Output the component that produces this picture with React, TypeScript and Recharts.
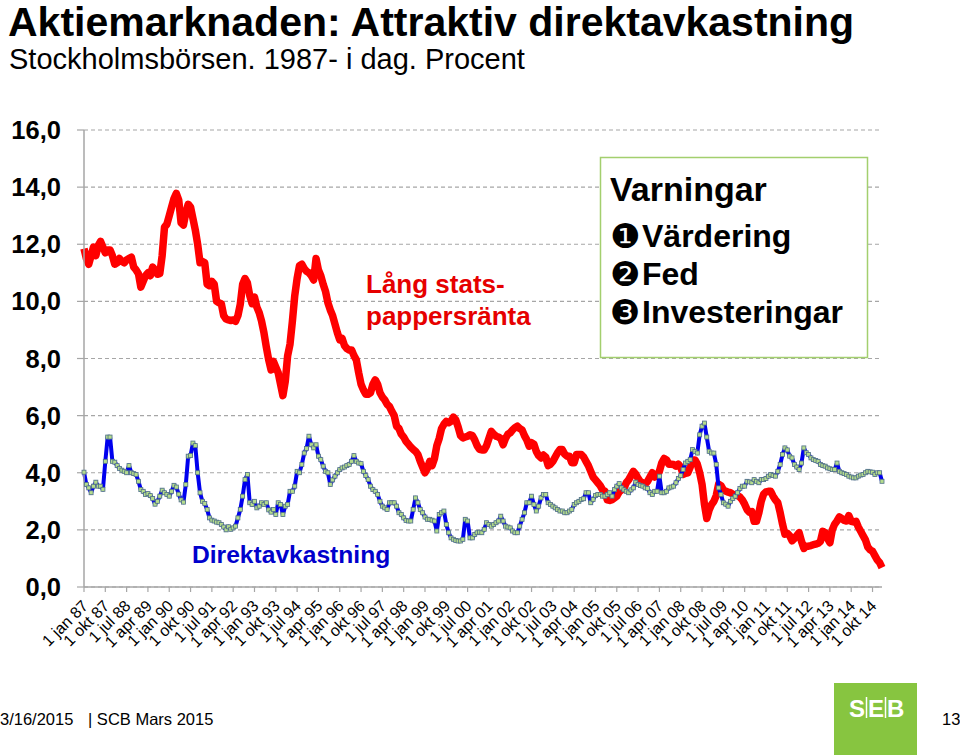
import React from "react";
import { LineChart, Line, XAxis, YAxis, CartesianGrid } from "recharts";

// Lång statspappersränta, månadsvärden jan 1987 - feb 2015 (procent)
const langRanta: number[] = [
  11.85, 11.5, 11.3, 11.6, 11.9, 11.6, 11.95, 12.1, 11.9, 11.7, 11.8, 11.8,
  11.6, 11.3, 11.35, 11.5, 11.4, 11.35, 11.45, 11.5, 11.55, 11.2, 11.1, 10.97,
  10.5, 10.7, 10.9, 11.0, 10.9, 11.2, 11.1, 10.95, 10.97, 11.6, 12.6, 12.7,
  13.0, 13.3, 13.6, 13.78, 13.55, 12.75, 12.67, 13.1, 13.4, 13.3, 12.9, 12.5,
  12.0, 11.35, 11.4, 11.35, 10.6, 10.55, 10.7, 10.6, 10.0, 9.95, 9.92, 9.5,
  9.38, 9.35, 9.33, 9.35, 9.3, 9.5, 9.9, 10.6, 10.8, 10.65, 10.2, 9.92,
  10.15, 9.8, 9.6, 9.3, 8.9, 8.4, 7.95, 7.6, 7.9, 7.7, 7.5, 7.1,
  6.7, 7.2, 8.1, 8.5, 9.3, 10.2, 10.8, 11.25, 11.3, 11.15, 11.05, 11.0,
  10.9, 10.75, 11.5, 11.1, 10.9, 10.6, 10.35, 9.95, 9.7, 9.5, 9.2, 8.9,
  8.65, 8.7, 8.45, 8.35, 8.3, 8.3, 8.1, 7.95, 7.5, 7.1, 6.9, 6.75,
  6.75, 6.8, 7.1, 7.25, 7.1, 6.8, 6.65, 6.55, 6.4, 6.32, 6.15, 6.0,
  5.63, 5.55, 5.35, 5.25, 5.1, 5.0, 4.9, 4.82, 4.75, 4.64, 4.4, 4.2,
  4.0, 4.15, 4.4, 4.25, 4.5, 4.95, 5.2, 5.55, 5.7, 5.8, 5.75, 5.8,
  5.95, 5.85, 5.6, 5.3, 5.22, 5.25, 5.28, 5.33, 5.3, 5.15, 4.95, 4.82,
  4.8, 4.8, 4.95, 5.2, 5.45, 5.35, 5.28, 5.25, 5.2, 4.98, 5.2, 5.35,
  5.4, 5.5, 5.58, 5.63, 5.55, 5.5, 5.3, 5.15, 4.93, 5.05, 5.0, 4.75,
  4.6, 4.52, 4.62, 4.55, 4.25, 4.3, 4.4, 4.55, 4.7, 4.81, 4.81, 4.65,
  4.58, 4.58, 4.35, 4.35, 4.64, 4.64, 4.64, 4.55, 4.4, 4.25, 4.05, 3.85,
  3.75, 3.65, 3.55, 3.4, 3.35, 3.05, 3.03, 3.06, 3.12, 3.18, 3.33, 3.4,
  3.45, 3.65, 3.75, 3.9, 4.05, 3.95, 3.8, 3.68, 3.65, 3.6, 3.7, 3.85,
  4.0, 3.85, 3.9, 4.05, 4.35, 4.5, 4.45, 4.3, 4.3, 4.29, 4.23, 4.3,
  4.2, 3.94, 3.98, 4.0, 4.2, 4.45, 4.45, 4.3, 4.0, 3.6, 2.9, 2.4,
  2.7, 2.88, 3.0, 3.2, 3.6, 3.55, 3.4, 3.36, 3.32, 3.3, 3.25, 3.22,
  3.2, 3.15, 3.05, 2.9, 2.71, 2.62, 2.64, 2.3, 2.3, 2.6, 3.0, 3.25,
  3.33, 3.35, 3.35, 3.18, 3.05, 2.95, 2.6, 2.2, 1.85, 1.88, 1.8, 1.62,
  1.7, 1.8, 1.9, 1.6, 1.35, 1.43, 1.43, 1.45, 1.48, 1.5, 1.53, 1.6,
  1.95, 1.9, 1.7, 1.55, 2.0, 2.2, 2.31, 2.45, 2.4, 2.33, 2.31, 2.5,
  2.3, 2.28, 2.3, 2.1, 1.95, 1.8, 1.65, 1.4, 1.3, 1.25, 1.1, 0.95,
  0.85, 0.68,
];

// Direktavkastning Stockholmsbörsen, månadsvärden jan 1987 - feb 2015 (procent)
const direktavkastning: number[] = [
  4.02, 3.59, 3.47, 3.3, 3.53, 3.67, 3.53, 3.53, 3.42, 4.4, 5.25, 5.25,
  4.4, 4.37, 4.25, 4.15, 4.09, 4.05, 4.0, 4.25, 4.0, 3.97, 3.94, 3.7,
  3.41, 3.35, 3.24, 3.27, 3.2, 3.1, 2.9, 3.0, 3.18, 3.39, 3.3, 3.24,
  3.18, 3.35, 3.56, 3.5, 3.25, 3.05, 2.97, 3.59, 4.58, 4.6, 5.04, 4.95,
  4.0, 3.3, 3.0, 2.92, 2.71, 2.42, 2.34, 2.31, 2.27, 2.25, 2.19, 2.1,
  2.0, 2.11, 2.02, 2.07, 2.13, 2.42, 2.71, 3.18, 3.76, 3.94, 2.95, 2.89,
  3.0, 2.77, 2.83, 2.95, 2.89, 2.95, 2.7, 2.62, 2.71, 2.54, 2.95, 2.89,
  2.54, 2.83, 2.89, 3.35, 3.35, 3.53, 4.05, 4.0, 4.29, 4.69, 4.85, 5.28,
  4.98, 4.87, 4.98, 4.58, 4.46, 4.23, 4.05, 4.0, 3.59, 3.75, 3.88, 4.0,
  4.11, 4.17, 4.2, 4.25, 4.29, 4.4, 4.6, 4.4, 4.34, 4.32, 4.05, 3.9,
  3.76, 3.53, 3.41, 3.35, 3.24, 3.0, 2.83, 2.77, 2.71, 2.95, 2.95, 2.95,
  2.83, 2.6, 2.54, 2.42, 2.33, 2.31, 2.31, 2.71, 3.12, 2.95, 2.71, 2.6,
  2.45, 2.37, 2.37, 2.34, 2.31, 1.96, 2.54, 2.6, 2.66, 2.19, 1.9, 1.72,
  1.67, 1.63, 1.61, 1.61, 1.67, 2.37, 2.31, 1.72, 1.72, 1.84, 1.9, 1.92,
  1.9, 2.02, 2.25, 2.19, 2.13, 2.19, 2.25, 2.31, 2.48, 2.31, 2.13, 2.1,
  2.07, 1.96, 1.9, 1.9, 2.13, 2.37, 2.6, 2.95, 2.95, 3.18, 2.89, 2.66,
  2.83, 3.12, 3.24, 3.24, 2.95, 2.89, 2.83, 2.77, 2.71, 2.66, 2.66, 2.6,
  2.6, 2.66, 2.71, 2.89, 2.95, 3.0, 3.06, 3.09, 3.3, 3.3, 2.95, 3.06,
  3.2, 3.24, 3.24, 3.18, 3.18, 3.24, 3.3, 3.18, 3.41, 3.53, 3.62, 3.47,
  3.4, 3.35, 3.3, 3.4, 3.47, 3.67, 3.59, 3.55, 3.53, 3.47, 3.45, 3.3,
  3.24, 3.35, 3.35, 3.88, 3.3, 3.3, 3.35, 3.47, 3.5, 3.53, 3.65, 3.8,
  3.9, 4.11, 4.34, 4.4, 4.46, 4.81, 4.75, 4.69, 5.33, 5.63, 5.74, 5.25,
  4.75, 4.69, 4.69, 4.29, 3.47, 3.24, 2.95, 2.9, 2.83, 3.0, 3.1, 3.18,
  3.3, 3.45, 3.53, 3.53, 3.7, 3.68, 3.65, 3.76, 3.7, 3.65, 3.76, 3.76,
  3.8, 3.88, 3.94, 3.9, 3.88, 4.05, 4.29, 4.64, 4.87, 4.8, 4.58, 4.52,
  4.29, 4.2, 4.11, 4.34, 4.87, 4.7, 4.64, 4.52, 4.46, 4.43, 4.4, 4.29,
  4.25, 4.23, 4.17, 4.14, 4.11, 4.11, 4.34, 4.05, 4.0, 3.97, 3.94, 3.88,
  3.85, 3.82, 3.82, 3.88, 3.92, 3.94, 4.0, 4.05, 4.03, 4.02, 3.94, 4.0,
  4.0, 3.7,
];

const tickLabels: string[] = [
  "1 jan 87", "1 okt 87", "1 jul 88", "1 apr 89", "1 jan 90", "1 okt 90",
  "1 jul 91", "1 apr 92", "1 jan 93", "1 okt 93", "1 jul 94", "1 apr 95",
  "1 jan 96", "1 okt 96", "1 jul 97", "1 apr 98", "1 jan 99", "1 okt 99",
  "1 jul 00", "1 apr 01", "1 jan 02", "1 okt 02", "1 jul 03", "1 apr 04",
  "1 jan 05", "1 okt 05", "1 jul 06", "1 apr 07", "1 jan 08", "1 okt 08",
  "1 jul 09", "1 apr 10", "1 jan 11", "1 okt 11", "1 jul 12", "1 apr 13",
  "1 jan 14", "1 okt 14",
];

const yTicks: number[] = [0, 2, 4, 6, 8, 10, 12, 14, 16];

// one tick every 9 months
const xTicks = tickLabels.map((_, i) => i * 9);

const data = langRanta.map((v, i) => ({
  m: i,
  ranta: v,
  direkt: direktavkastning[i],
}));

const FONT = "'Liberation Sans', Arial, sans-serif";
const NARROW = "'Liberation Sans Narrow', 'Liberation Sans', sans-serif";
const SYMBOL = "'DejaVu Sans', sans-serif";
const GRAY = "#a6a6a6";

const XTick = (props: any) => {
  const { x, y, payload } = props;
  const label = tickLabels[Math.round(payload.value / 9)];
  const ax = x + 5;
  const ay = y + 13;
  return (
    <text
      x={ax}
      y={ay}
      transform={`rotate(-45 ${ax} ${ay})`}
      textAnchor="end"
      fontSize={16}
      fontFamily={FONT}
      fill="#000"
    >
      {label}
    </text>
  );
};

const renderDot = (props: any) => {
  const { cx, cy, index } = props;
  if (cx == null || cy == null) return <g key={`d${index}`} />;
  return (
    <rect
      key={`d${index}`}
      x={cx - 2}
      y={cy - 2}
      width={4}
      height={4}
      fill="#b5dc8c"
      stroke="#50708a"
      strokeWidth={0.8}
    />
  );
};

const App: React.FC = () => {
  return (
    <div
      style={{
        position: "absolute",
        left: 0,
        top: 0,
        width: 960,
        height: 755,
        background: "#fff",
        fontFamily: FONT,
      }}
    >
      <LineChart
        width={960}
        height={755}
        data={data}
        margin={{ top: 130, right: 78, left: 0, bottom: 108 }}
      >
        <CartesianGrid
          vertical={false}
          stroke={GRAY}
          strokeDasharray="4 3"
          strokeWidth={1.2}
        />
        <XAxis
          type="number"
          dataKey="m"
          domain={[0, 337]}
          ticks={xTicks}
          interval={0}
          height={60}
          tickSize={5}
          tick={<XTick />}
          axisLine={{ stroke: GRAY, strokeWidth: 1.5 }}
          tickLine={{ stroke: GRAY, strokeWidth: 1.2 }}
        />
        <YAxis
          type="number"
          domain={[0, 16]}
          ticks={yTicks}
          width={84}
          tickSize={7}
          tickMargin={16}
          interval={0}
          tickFormatter={(v: number) => v.toFixed(1).replace(".", ",")}
          tick={{ fontSize: 25.5, fontWeight: "bold", fill: "#000", fontFamily: FONT }}
          axisLine={{ stroke: GRAY, strokeWidth: 1.5 }}
          tickLine={{ stroke: GRAY, strokeWidth: 1.2 }}
        />
        <Line
          type="linear"
          dataKey="ranta"
          stroke="#ff0000"
          strokeWidth={7.5}
          strokeLinejoin="round"
          dot={false}
          isAnimationActive={false}
        />
        <Line
          type="linear"
          dataKey="direkt"
          stroke="#0000ee"
          strokeWidth={4}
          strokeLinejoin="round"
          dot={renderDot}
          activeDot={false}
          isAnimationActive={false}
        />
      </LineChart>

      <svg
        width={960}
        height={755}
        style={{ position: "absolute", left: 0, top: 0, pointerEvents: "none" }}
        fontFamily={FONT}
      >
        <text x={8} y={36} fontSize={41} fontWeight="bold" fill="#000">
          Aktiemarknaden: Attraktiv direktavkastning
        </text>
        <text x={9} y={69} fontSize={29} fill="#000">
          Stockholmsbörsen. 1987- i dag. Procent
        </text>

        <text x={366} y={293} fontSize={26} fontWeight="bold" fill="#e60000">
          Lång stats-
        </text>
        <text x={366} y={325} fontSize={26} fontWeight="bold" fill="#e60000">
          pappersränta
        </text>
        <text x={192} y={563} fontSize={24.6} fontWeight="bold" fill="#0000cc">
          Direktavkastning
        </text>

        <rect x={600.5} y={157.5} width={267} height={200} fill="#fff" stroke="#a3cf6e" strokeWidth={1.5} />
        <text x={610} y={201} fontSize={34} fontWeight="bold" fill="#000">
          Varningar
        </text>
        <text x={610} y={248} fontSize={34} fill="#000" fontFamily={SYMBOL}>
          ❶
        </text>
        <text x={642} y={247} fontSize={32} fontWeight="bold" fill="#000">
          Värdering
        </text>
        <text x={610} y={286} fontSize={34} fill="#000" fontFamily={SYMBOL}>
          ❷
        </text>
        <text x={642} y={285} fontSize={32} fontWeight="bold" fill="#000">
          Fed
        </text>
        <text x={610} y={324} fontSize={34} fill="#000" fontFamily={SYMBOL}>
          ❸
        </text>
        <text x={642} y={323} fontSize={32} fontWeight="bold" fill="#000">
          Investeringar
        </text>

        <text x={0} y={725} fontSize={16.5} fill="#000" fontFamily={NARROW}>
          3/16/2015
        </text>
        <text x={88} y={725} fontSize={16.5} fill="#000" fontFamily={NARROW}>
          | SCB Mars 2015
        </text>
        <text x={942} y={725} fontSize={16.5} fill="#000" fontFamily={NARROW}>
          13
        </text>

        <rect x={834} y={683} width={83} height={72} fill="#87c540" />
        <text x={849} y={717} fontSize={24} fontWeight="bold" fill="#fff">S</text>
        <line x1={866.5} y1={697} x2={866.5} y2={718} stroke="#fff" strokeWidth={1.5} />
        <text x={868} y={717} fontSize={24} fontWeight="bold" fill="#fff">E</text>
        <line x1={885.5} y1={697} x2={885.5} y2={718} stroke="#fff" strokeWidth={1.5} />
        <text x={887} y={717} fontSize={24} fontWeight="bold" fill="#fff">B</text>
      </svg>
    </div>
  );
};

export default App;
